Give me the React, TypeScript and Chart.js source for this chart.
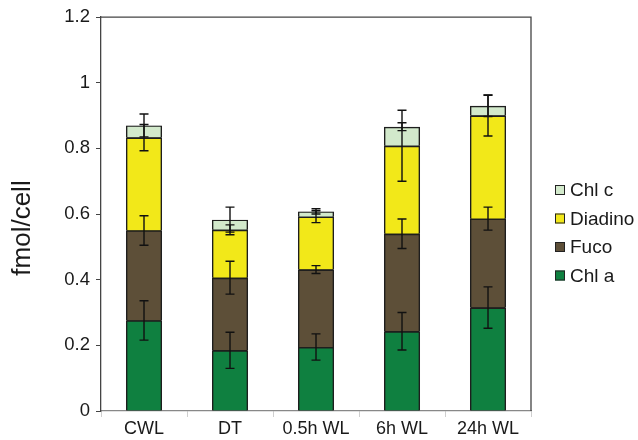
import React, { useEffect, useRef } from "react";
import { Chart, registerables } from "chart.js";

Chart.register(...registerables);

const categories = ["CWL", "DT", "0.5h WL", "6h WL", "24h WL"];
const seriesNames = ["Chl a", "Fuco", "Diadino", "Chl c"];
const chlA = [0.276, 0.185, 0.195, 0.243, 0.315];
const fuco = [0.274, 0.221, 0.236, 0.297, 0.271];
const diadino = [0.283, 0.146, 0.161, 0.268, 0.314];
const chlC = [0.037, 0.031, 0.016, 0.058, 0.030];
const errChlA = [0.06, 0.055, 0.04, 0.057, 0.063];
const errFuco = [0.045, 0.05, 0.012, 0.045, 0.035];
const errDiadino = [0.04, 0.015, 0.018, 0.108, 0.062];
const errChlC = [0.035, 0.038, 0.008, 0.012, 0.033];
const yTicks = [0, 0.2, 0.4, 0.6, 0.8, 1, 1.2];
const yTickLabels = ["0", "0.2", "0.4", "0.6", "0.8", "1", "1.2"];
const yTitle = "fmol/cell";

const seriesValues = [chlA, fuco, diadino, chlC];
const seriesErrors = [errChlA, errFuco, errDiadino, errChlC];
const seriesColors = ["#0f8040", "#5d4f38", "#f2e819", "#d2e9cb"];
const OUTLINE = "#1e1e1e";
const FONT = "'Liberation Sans', Arial, sans-serif";

const stackBackPlugin = {
  id: "stackBack",
  beforeDatasetsDraw(chart: any) {
    const ctx = chart.ctx;
    const n = chart.data.datasets.length;
    const first = chart.getDatasetMeta(0);
    const last = chart.getDatasetMeta(n - 1);
    ctx.save();
    ctx.fillStyle = OUTLINE;
    first.data.forEach((el: any, j: number) => {
      const topEl = last.data[j];
      const w = el.width;
      ctx.fillRect(el.x - w / 2 + 0.5, topEl.y + 0.5, w - 1, el.base - topEl.y - 0.5);
    });
    ctx.restore();
  },
};

const errorBarPlugin = {
  id: "errorBars",
  afterDatasetsDraw(chart: any) {
    const ctx = chart.ctx;
    const yScale = chart.scales.y;
    ctx.save();
    ctx.strokeStyle = "#111";
    ctx.lineWidth = 1.4;
    chart.data.datasets.forEach((ds: any, i: number) => {
      const meta = chart.getDatasetMeta(i);
      meta.data.forEach((el: any, j: number) => {
        let top = 0;
        for (let k = 0; k <= i; k++) top += seriesValues[k][j];
        const e = seriesErrors[i][j];
        const yHi = yScale.getPixelForValue(top + e);
        const yLo = yScale.getPixelForValue(top - e);
        const x = el.x;
        const cap = 4.5;
        ctx.beginPath();
        ctx.moveTo(x, yHi);
        ctx.lineTo(x, yLo);
        ctx.moveTo(x - cap, yHi);
        ctx.lineTo(x + cap, yHi);
        ctx.moveTo(x - cap, yLo);
        ctx.lineTo(x + cap, yLo);
        ctx.stroke();
      });
    });
    ctx.restore();
  },
};

const framePlugin = {
  id: "frameAndLegend",
  afterDraw(chart: any) {
    const ctx = chart.ctx;
    const a = chart.chartArea;
    ctx.save();
    ctx.strokeStyle = "#444";
    ctx.lineWidth = 1.3;
    ctx.beginPath();
    ctx.moveTo(a.left, a.top);
    ctx.lineTo(a.right, a.top);
    ctx.lineTo(a.right, a.bottom);
    ctx.stroke();

    ctx.fillStyle = "#1a1a1a";
    ctx.font = `26px ${FONT}`;
    ctx.textAlign = "center";
    ctx.textBaseline = "middle";
    ctx.translate(23, 228);
    ctx.rotate(-Math.PI / 2);
    ctx.fillText(yTitle, 0, 0);
    ctx.restore();

    ctx.save();
    ctx.font = `19px ${FONT}`;
    ctx.textAlign = "left";
    ctx.textBaseline = "middle";
    const lx = a.right + 24;
    const startY = 190;
    const step = 28.5;
    const n = seriesNames.length;
    for (let r = 0; r < n; r++) {
      const idx = n - 1 - r;
      const cy = startY + r * step;
      ctx.fillStyle = seriesColors[idx];
      ctx.fillRect(lx, cy - 5, 10, 10);
      ctx.strokeStyle = "#222";
      ctx.lineWidth = 1;
      ctx.strokeRect(lx + 0.5, cy - 4.5, 9, 9);
      ctx.fillStyle = "#1a1a1a";
      ctx.fillText(seriesNames[idx], lx + 15, cy + 1);
    }
    ctx.restore();
  },
};

export default function App() {
  const ref = useRef<HTMLCanvasElement>(null);
  useEffect(() => {
    document.body.style.margin = "0";
    const canvas = ref.current!;
    const chart = new Chart(canvas, {
      type: "bar",
      data: {
        labels: categories,
        datasets: seriesNames.map((name, i) => ({
          label: name,
          data: seriesValues[i],
          backgroundColor: seriesColors[i],
          borderColor: OUTLINE,
          borderWidth: 1.4,
          borderSkipped: "start",
          inflateAmount: 0,
          barPercentage: 0.42,
          categoryPercentage: 1,
        })),
      },
      options: {
        responsive: false,
        animation: false,
        devicePixelRatio: 1,
        layout: { padding: { left: 0, top: 16, right: 107, bottom: 0 } },
        plugins: {
          legend: { display: false },
          tooltip: { enabled: false },
        },
        scales: {
          x: {
            stacked: true,
            afterFit: (s: any) => {
              s.height = 29;
            },
            grid: {
              display: true,
              drawOnChartArea: false,
              drawTicks: true,
              tickLength: 6,
              color: "#cfcfcf",
              offset: true,
            },
            border: { display: true, color: "#888", width: 1.3 },
            ticks: {
              color: "#1a1a1a",
              font: { family: FONT, size: 18 },
              padding: 1,
              maxRotation: 0,
            },
          },
          y: {
            stacked: true,
            min: 0,
            max: 1.2,
            afterFit: (s: any) => {
              s.width = 101;
            },
            afterBuildTicks: (s: any) => {
              s.ticks = yTicks.map((v) => ({ value: v }));
            },
            grid: {
              display: true,
              drawOnChartArea: false,
              drawTicks: true,
              tickLength: 5,
              color: "#444",
            },
            border: { display: true, color: "#444", width: 1.3 },
            ticks: {
              color: "#1a1a1a",
              font: { family: FONT, size: 18.5 },
              padding: 6,
              callback: (v: any) => {
                const k = yTicks.findIndex((t) => Math.abs(t - Number(v)) < 1e-9);
                return k >= 0 ? yTickLabels[k] : String(v);
              },
            },
          },
        },
      },
      plugins: [stackBackPlugin, errorBarPlugin, framePlugin],
    });
    return () => chart.destroy();
  }, []);
  return (
    <div style={{ width: 638, height: 440 }}>
      <canvas ref={ref} width={638} height={440} />
    </div>
  );
}
